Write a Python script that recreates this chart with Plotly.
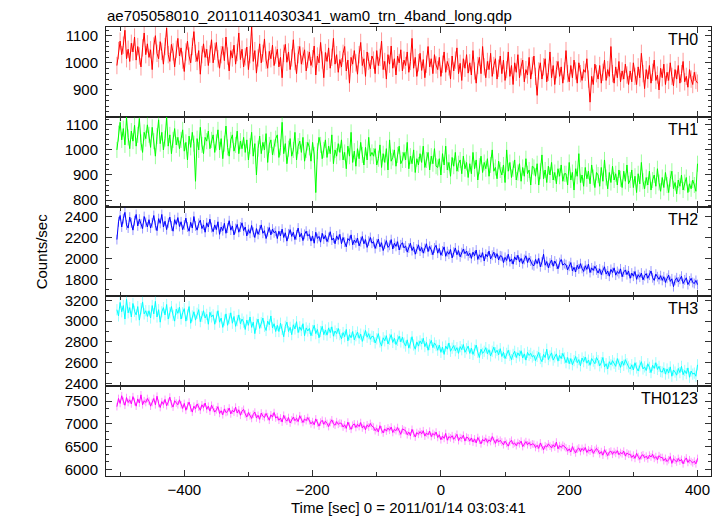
import plotly.graph_objects as go
from plotly.subplots import make_subplots

# ---------------- data ----------------
# light-curve bins every 2.5 s from -505 s to +400 s
time_sec = [-505 + 2.5 * i for i in range(363)]

th0 = [990, 1045, 1080, 1030, 1065, 1120, 1015, 1050, 1005, 1072, 1040, 1095, 1010, 1060, 1025, 985, 1055, 1110, 1030, 1070,
       1020, 1048, 975, 1062, 1100, 1035, 1015, 1078, 1042, 995, 1060, 1128, 1030, 1005, 1068, 1040, 985, 1050, 1090, 1025,
       1055, 1010, 968, 1040, 1080, 1025, 1000, 1060, 1115, 1035, 1005, 1045, 958, 1030, 1070, 1020, 1050, 990, 1032, 1085,
       1000, 1042, 1075, 1015, 980, 1030, 1060, 1008, 1095, 1025, 970, 1045, 1018, 1065, 995, 1038, 1110, 1012, 1050, 985,
       1022, 1058, 975, 1030, 1132, 1005, 1045, 962, 1018, 1070, 1000, 1035, 1088, 1010, 980, 1042, 1015, 1065, 990, 1028,
       1050, 985, 1020, 945, 1035, 1068, 1002, 1040, 975, 1018, 1085, 1005, 960, 1030, 1060, 995, 1025, 1048, 970, 1012,
       1040, 990, 1015, 1062, 955, 1025, 1000, 1075, 1010, 945, 1038, 1005, 1055, 980, 1020, 1090, 995, 1030, 965, 1012,
       985, 1035, 1060, 970, 1010, 925, 1020, 995, 1045, 1000, 958, 1030, 1075, 990, 1015, 950, 1040, 1005, 978, 1025,
       1010, 960, 1045, 990, 1020, 1080, 975, 1005, 940, 1030, 995, 1062, 980, 1015, 955, 1025, 1000, 1048, 970, 1010,
       990, 1040, 965, 1005, 1090, 980, 1020, 950, 1000, 1035, 972, 1012, 945, 995, 1060, 985, 1015, 960, 1030, 992,
       975, 1020, 950, 995, 1040, 965, 1005, 985, 940, 1025, 970, 1010, 1055, 960, 998, 935, 1015, 980, 1030, 962,
       1000, 955, 1045, 970, 925, 990, 1020, 960, 1060, 985, 945, 1005, 975, 1035, 950, 990, 1015, 940, 980, 1025,
       960, 1010, 935, 975, 1040, 950, 990, 920, 1000, 965, 1030, 945, 985, 1010, 930, 975, 955, 1020, 940, 990,
       1025, 950, 880, 970, 1000, 940, 985, 1015, 930, 965, 1040, 945, 990, 920, 975, 1005, 950, 985, 925, 970,
       1045, 960, 930, 990, 945, 1010, 970, 925, 1000, 960, 935, 975, 965, 1015, 940, 855, 950, 920, 995, 960,
       940, 990, 925, 965, 1010, 935, 975, 950, 1060, 960, 925, 985, 945, 1005, 930, 970, 940, 995, 955, 920,
       970, 930, 1000, 950, 920, 985, 945, 1035, 960, 905, 975, 940, 990, 925, 965, 1010, 935, 955, 900, 980,
       945, 995, 920, 965, 935, 1000, 950, 915, 975, 940, 990, 925, 960, 1005, 930, 950, 910, 975, 940, 920,
       965, 935, 925]

th1 = [1000, 1065, 1110, 1040, 1085, 1020, 1130, 1050, 1005, 1075, 1035, 1098, 1015, 1060, 1125, 1030, 990, 1070, 1045, 1100,
       1060, 1010, 1090, 1035, 975, 1055, 1120, 1025, 1070, 1000, 1045, 1130, 1015, 1060, 985, 1040, 1085, 1020, 1050, 1005,
       1040, 1080, 995, 1030, 960, 1055, 1010, 1070, 1025, 875, 1045, 1000, 1090, 1020, 985, 1050, 1035, 1075, 1005, 1040,
       1060, 990, 1030, 1080, 1000, 1045, 965, 1025, 1095, 1010, 975, 1040, 1060, 995, 1020, 1075, 985, 1035, 1005, 1050,
       990, 1040, 960, 1015, 1070, 975, 1025, 900, 1005, 1055, 985, 1030, 1000, 1065, 950, 1020, 1040, 980, 1010, 1045,
       1060, 970, 1010, 1110, 985, 1025, 945, 1005, 1045, 975, 1000, 1070, 960, 1015, 1035, 990, 1050, 955, 1000, 1030,
       1010, 955, 1030, 980, 830, 995, 1050, 1020, 965, 1000, 1040, 970, 1015, 985, 1060, 945, 1000, 975, 1025, 990,
       1040, 960, 990, 925, 1015, 975, 1070, 950, 995, 935, 1005, 965, 1030, 980, 940, 1010, 960, 1050, 975, 990,
       975, 1005, 940, 965, 1020, 930, 985, 950, 1005, 920, 1040, 955, 970, 1000, 935, 980, 1015, 945, 960, 990,
       960, 1030, 925, 975, 945, 1000, 910, 965, 940, 985, 950, 1015, 930, 960, 990, 920, 975, 945, 1005, 935,
       930, 965, 900, 985, 940, 1015, 920, 950, 895, 970, 935, 990, 915, 945, 960, 905, 975, 925, 950, 890,
       945, 905, 990, 925, 960, 880, 935, 975, 910, 950, 925, 965, 895, 940, 1000, 915, 930, 885, 955, 920,
       900, 940, 870, 1000, 915, 950, 890, 925, 960, 880, 910, 945, 875, 930, 895, 965, 905, 920, 860, 935,
       930, 895, 945, 860, 915, 980, 885, 920, 870, 935, 900, 950, 880, 910, 865, 925, 895, 940, 875, 905,
       905, 860, 950, 880, 910, 840, 925, 895, 985, 870, 900, 855, 930, 885, 915, 865, 940, 890, 850, 910,
       900, 855, 930, 875, 960, 890, 845, 910, 870, 935, 880, 905, 860, 920, 885, 850, 915, 875, 940, 865,
       880, 920, 850, 895, 830, 905, 865, 950, 875, 845, 890, 860, 915, 840, 880, 900, 855, 925, 870, 835,
       890, 850, 910, 860, 830, 885, 915, 845, 870, 825, 880, 855, 900, 840, 870, 890, 830, 865, 845, 880,
       860, 835, 945]

th2 = [2180, 2350, 2410, 2300, 2380, 2440, 2320, 2290, 2395, 2340, 2270, 2360, 2420, 2310, 2375, 2330, 2285, 2400, 2345, 2300,
       2370, 2290, 2340, 2410, 2315, 2265, 2380, 2335, 2420, 2300, 2355, 2275, 2340, 2395, 2310, 2260, 2370, 2325, 2390, 2305,
       2350, 2275, 2320, 2385, 2300, 2260, 2345, 2290, 2400, 2310, 2270, 2335, 2365, 2285, 2320, 2250, 2340, 2300, 2375, 2295,
       2255, 2320, 2275, 2350, 2230, 2300, 2265, 2335, 2240, 2290, 2360, 2270, 2310, 2225, 2285, 2325, 2250, 2300, 2340, 2265,
       2300, 2215, 2275, 2240, 2315, 2250, 2200, 2285, 2230, 2270, 2320, 2240, 2265, 2190, 2255, 2295, 2225, 2280, 2245, 2260,
       2190, 2260, 2215, 2280, 2200, 2245, 2165, 2235, 2275, 2210, 2250, 2180, 2225, 2290, 2205, 2240, 2170, 2230, 2260, 2215,
       2230, 2165, 2215, 2145, 2250, 2190, 2210, 2155, 2240, 2185, 2220, 2160, 2200, 2255, 2175, 2195, 2140, 2215, 2180, 2230,
       2140, 2200, 2155, 2110, 2190, 2170, 2225, 2130, 2175, 2150, 2195, 2120, 2160, 2210, 2140, 2180, 2105, 2165, 2200, 2145,
       2160, 2095, 2140, 2185, 2110, 2150, 2075, 2135, 2170, 2105, 2125, 2180, 2090, 2145, 2115, 2160, 2080, 2130, 2150, 2100,
       2120, 2060, 2100, 2145, 2075, 2110, 2040, 2090, 2130, 2070, 2105, 2050, 2095, 2140, 2065, 2115, 2080, 2035, 2100, 2125,
       2050, 2095, 2030, 2070, 2110, 2020, 2065, 2040, 2085, 2005, 2060, 2100, 2035, 2075, 2015, 2055, 2090, 2045, 2070, 2025,
       2050, 2000, 2060, 2025, 2080, 1990, 2035, 2010, 2055, 1975, 2040, 2015, 2070, 1995, 2030, 2060, 2005, 2045, 1985, 2025,
       2020, 1960, 2010, 1980, 2040, 1970, 1995, 1945, 2015, 1985, 2030, 1965, 2000, 1950, 1990, 2025, 1960, 2005, 1975, 1940,
       1930, 1990, 1950, 2000, 1920, 1965, 2040, 1935, 1970, 1910, 1955, 1985, 1925, 1975, 1945, 1900, 1960, 1990, 1935, 1950,
       1940, 1890, 1925, 1960, 1880, 1915, 1870, 1935, 1900, 1950, 1905, 1875, 1930, 1895, 1945, 1865, 1910, 1885, 1925, 1890,
       1860, 1900, 1845, 1885, 1920, 1850, 1880, 1830, 1895, 1865, 1910, 1840, 1875, 1855, 1900, 1825, 1870, 1890, 1845, 1880,
       1810, 1860, 1830, 1875, 1800, 1845, 1820, 1860, 1795, 1835, 1855, 1810, 1840, 1880, 1815, 1790, 1850, 1825, 1800, 1835,
       1790, 1825, 1770, 1810, 1840, 1780, 1805, 1730, 1790, 1815, 1775, 1800, 1830, 1760, 1795, 1815, 1750, 1785, 1810, 1770,
       1760, 1790, 1750]

th3 = [3110, 3050, 3180, 3090, 3150, 3020, 3210, 3080, 3130, 3040, 3170, 3095, 3060, 3140, 3010, 3120, 3185, 3070, 3100, 3045,
       3100, 3030, 3150, 3070, 3190, 3040, 3110, 2990, 3090, 3130, 3060, 3160, 3020, 3080, 3140, 3055, 3000, 3115, 3075, 3135,
       3020, 3080, 3120, 3000, 3060, 3140, 2980, 3050, 3090, 3010, 3075, 3110, 2995, 3045, 3100, 3030, 3065, 2970, 3085, 3040,
       3060, 2970, 3040, 3100, 2990, 3030, 2940, 3010, 3070, 2960, 3025, 3080, 2980, 3045, 2950, 3005, 3060, 2975, 3020, 2990,
       2920, 3010, 2960, 3040, 2940, 2990, 2880, 2970, 3020, 2930, 2985, 3030, 2950, 2910, 3000, 2965, 3050, 2935, 2975, 2900,
       2960, 2900, 2980, 2920, 2850, 2950, 2990, 2900, 2940, 2870, 2965, 2925, 2995, 2890, 2945, 2910, 2975, 2860, 2935, 2905,
       2930, 2860, 2910, 2960, 2880, 2920, 2840, 2900, 2950, 2870, 2915, 2865, 2935, 2890, 2945, 2855, 2905, 2880, 2930, 2870,
       2830, 2890, 2850, 2920, 2810, 2870, 2840, 2900, 2820, 2860, 2895, 2835, 2875, 2805, 2865, 2910, 2845, 2880, 2825, 2855,
       2850, 2790, 2830, 2880, 2800, 2760, 2840, 2810, 2860, 2780, 2825, 2870, 2795, 2835, 2775, 2815, 2855, 2800, 2845, 2790,
       2760, 2820, 2740, 2790, 2850, 2770, 2730, 2800, 2760, 2810, 2780, 2835, 2755, 2795, 2720, 2775, 2815, 2745, 2790, 2765,
       2720, 2770, 2700, 2750, 2680, 2760, 2730, 2790, 2710, 2740, 2765, 2715, 2745, 2690, 2755, 2725, 2775, 2700, 2735, 2760,
       2690, 2740, 2680, 2720, 2770, 2700, 2650, 2730, 2690, 2710, 2745, 2685, 2725, 2665, 2710, 2750, 2695, 2720, 2675, 2735,
       2660, 2700, 2640, 2690, 2720, 2670, 2630, 2680, 2710, 2650, 2695, 2665, 2715, 2645, 2685, 2625, 2700, 2670, 2690, 2655,
       2670, 2620, 2660, 2700, 2640, 2610, 2680, 2650, 2730, 2630, 2665, 2695, 2625, 2655, 2685, 2615, 2670, 2640, 2690, 2645,
       2600, 2650, 2590, 2640, 2580, 2620, 2660, 2600, 2630, 2570, 2645, 2610, 2655, 2595, 2625, 2575, 2640, 2615, 2590, 2650,
       2620, 2570, 2600, 2650, 2560, 2590, 2540, 2610, 2580, 2620, 2595, 2565, 2640, 2585, 2555, 2615, 2575, 2630, 2590, 2560,
       2540, 2580, 2530, 2600, 2550, 2520, 2570, 2610, 2540, 2560, 2525, 2590, 2555, 2505, 2575, 2545, 2600, 2535, 2565, 2515,
       2510, 2550, 2490, 2540, 2500, 2560, 2470, 2530, 2510, 2480, 2545, 2505, 2565, 2485, 2525, 2495, 2550, 2460, 2520, 2490,
       2500, 2470, 2580]

th0123 = [7380, 7560, 7450, 7620, 7500, 7410, 7580, 7470, 7530, 7440, 7600, 7490, 7390, 7550, 7460, 7640, 7420, 7510, 7470, 7560,
          7500, 7390, 7470, 7560, 7420, 7610, 7450, 7360, 7490, 7430, 7540, 7400, 7480, 7590, 7440, 7370, 7510, 7460, 7420, 7530,
          7420, 7340, 7450, 7300, 7400, 7480, 7350, 7260, 7390, 7330, 7440, 7370, 7300, 7420, 7360, 7460, 7320, 7390, 7280, 7410,
          7340, 7260, 7310, 7380, 7230, 7290, 7200, 7330, 7250, 7270, 7350, 7220, 7300, 7260, 7370, 7240, 7310, 7190, 7280, 7320,
          7220, 7150, 7250, 7180, 7120, 7210, 7260, 7130, 7190, 7100, 7240, 7170, 7140, 7230, 7160, 7080, 7200, 7150, 7250, 7130,
          7160, 7080, 7130, 7040, 7190, 7100, 7060, 7140, 7020, 7090, 7150, 7070, 7120, 7050, 7180, 7100, 7030, 7110, 7070, 7140,
          7070, 7000, 7050, 6980, 7110, 7020, 6950, 7040, 7080, 6990, 7060, 7010, 6940, 7030, 7090, 7000, 6970, 7050, 6990, 7020,
          7010, 6930, 6980, 6900, 7040, 6950, 6880, 6970, 7000, 6920, 6990, 6940, 7030, 6910, 6960, 6870, 6980, 6930, 7010, 6950,
          6930, 6850, 6900, 6820, 6960, 6870, 6800, 6890, 6840, 6910, 6860, 6930, 6810, 6880, 6850, 6920, 6830, 6770, 6890, 6860,
          6850, 6760, 6820, 6740, 6880, 6790, 6710, 6810, 6770, 6830, 6780, 6850, 6730, 6800, 6760, 6840, 6720, 6790, 6750, 6820,
          6700, 6760, 6650, 6730, 6680, 6790, 6640, 6720, 6690, 6740, 6660, 6710, 6770, 6630, 6700, 6680, 6750, 6620, 6710, 6690,
          6620, 6690, 6600, 6670, 6580, 6700, 6640, 6560, 6660, 6620, 6680, 6590, 6650, 6610, 6720, 6630, 6570, 6660, 6600, 6640,
          6600, 6540, 6620, 6570, 6510, 6600, 6640, 6550, 6580, 6520, 6590, 6560, 6620, 6500, 6570, 6610, 6540, 6590, 6530, 6560,
          6550, 6480, 6530, 6460, 6580, 6500, 6430, 6520, 6490, 6560, 6510, 6470, 6540, 6490, 6600, 6450, 6520, 6480, 6530, 6500,
          6470, 6400, 6450, 6380, 6500, 6420, 6360, 6440, 6470, 6390, 6460, 6410, 6480, 6370, 6430, 6400, 6450, 6350, 6420, 6460,
          6410, 6340, 6390, 6310, 6430, 6360, 6300, 6380, 6400, 6330, 6390, 6350, 6410, 6320, 6370, 6340, 6400, 6290, 6360, 6330,
          6330, 6260, 6310, 6240, 6350, 6280, 6220, 6300, 6320, 6250, 6290, 6230, 6310, 6270, 6330, 6240, 6280, 6210, 6300, 6260,
          6260, 6190, 6240, 6170, 6210, 6280, 6130, 6230, 6200, 6160, 6240, 6180, 6220, 6120, 6200, 6250, 6150, 6210, 6170, 6140,
          6180, 6120, 6240]

panel_names = ["TH0", "TH1", "TH2", "TH3", "TH0123"]
series = [th0, th1, th2, th3, th0123]
errors = [32, 32, 47, 54, 84]
line_colors = ["#ff0000", "#00ff00", "#0000ff", "#00ffff", "#ff00ff"]
err_colors = ["rgba(255,0,0,0.4)", "rgba(0,255,0,0.4)", "rgba(0,0,255,0.4)",
              "rgba(0,255,255,0.4)", "rgba(255,0,255,0.4)"]
y_ranges = [[801, 1132], [774, 1132], [1637, 2495], [2374, 3238], [5852, 7830]]
y_dticks = [100, 100, 200, 200, 500]
y_minor = [20, 20, 100, 100, 500 / 3]

title_text = "ae705058010_20110114030341_wam0_trn_4band_long.qdp"
x_title = "Time [sec] 0 = 2011/01/14 03:03:41"
y_title = "Counts/sec"

FONT = "Liberation Sans, Arial, Helvetica, sans-serif"

# ---------------- figure ----------------
fig = make_subplots(rows=5, cols=1, shared_xaxes=True, vertical_spacing=0)

for i, (vals, name) in enumerate(zip(series, panel_names)):
    fig.add_trace(
        go.Scatter(
            x=time_sec, y=vals, mode="lines", name=name,
            line=dict(color=line_colors[i], width=1),
            error_y=dict(type="constant", value=errors[i], color=err_colors[i],
                         thickness=1, width=0),
            showlegend=False,
        ),
        row=i + 1, col=1,
    )
    fig.update_yaxes(
        range=y_ranges[i], dtick=y_dticks[i], tick0=0,
        minor=dict(dtick=y_minor[i], ticks="inside", ticklen=3, tickcolor="#333"),
        row=i + 1, col=1,
    )
    fig.add_annotation(
        text=name, xref="x domain" if i == 0 else f"x{i+1} domain",
        yref="y domain" if i == 0 else f"y{i+1} domain",
        x=1, y=1, xanchor="right", yanchor="top", xshift=-11, yshift=-2,
        showarrow=False, font=dict(family=FONT, size=16, color="black"),
    )

fig.update_xaxes(
    range=[-522, 421], dtick=200, tick0=0, ticks="inside", ticklen=6,
    tickcolor="#333", minor=dict(dtick=100, ticks="inside", ticklen=4, tickcolor="#333"),
    showline=True, linecolor="#222", linewidth=1, mirror="ticks",
    showgrid=False, zeroline=False,
    tickfont=dict(family=FONT, size=15, color="black"),
)
fig.update_yaxes(
    ticks="inside", ticklen=6, tickcolor="#333",
    showline=True, linecolor="#222", linewidth=1, mirror="ticks",
    showgrid=False, zeroline=False,
    tickfont=dict(family=FONT, size=15, color="black"),
    ticklabelstandoff=4,
)

fig.add_annotation(text=title_text, xref="paper", yref="paper", x=0, y=1,
                   xanchor="left", yanchor="bottom", yshift=2, borderpad=0,
                   showarrow=False, font=dict(family=FONT, size=15, color="black"))
fig.add_annotation(text=x_title, xref="paper", yref="paper", x=0.5, y=0,
                   xanchor="center", yanchor="top", yshift=-21, showarrow=False,
                   font=dict(family=FONT, size=15, color="black"))
fig.add_annotation(text=y_title, xref="paper", yref="paper", x=-0.106, y=0.5,
                   xanchor="center", yanchor="middle", textangle=-90, showarrow=False,
                   font=dict(family=FONT, size=15, color="black"))

# the page body adds an 8 px margin, so the figure is sized to fit inside it
fig.update_layout(
    width=715, height=508,
    margin=dict(l=98, r=12, t=19, b=40),
    plot_bgcolor="white", paper_bgcolor="white",
    font=dict(family=FONT, size=15, color="black"),
)

fig.write_html("out.html")
